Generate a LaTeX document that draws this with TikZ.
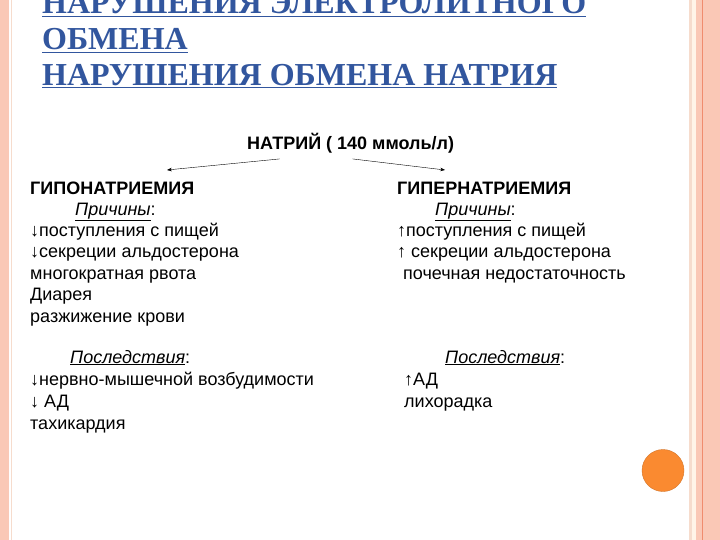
\documentclass[tikz,border=0pt]{standalone}
\usepackage{fontspec}
\setmainfont{Liberation Sans}
\newfontfamily\titlefont{Liberation Serif}
\usetikzlibrary{arrows.meta}
\usetikzlibrary{positioning}

\definecolor{titleblue}{RGB}{50,86,158}
\definecolor{framepink}{RGB}{250,200,182}
\definecolor{framelight}{RGB}{246,220,205}
\definecolor{framecream}{RGB}{255,244,232}
\definecolor{frameline}{RGB}{240,140,110}
\definecolor{dotorange}{RGB}{250,138,48}

\tikzset{
    txt/.style={anchor=base west, inner sep=0pt, font=\fontsize{18}{21}\selectfont},
    head/.style={txt, font=\fontsize{18}{21}\selectfont\bfseries},
    ttl/.style={anchor=base west, inner sep=0pt, text=titleblue, font=\titlefont\fontsize{32}{36}\selectfont\bfseries},
}

\begin{document}
\begin{tikzpicture}[x=1pt, y=-1pt, >=Stealth]
    \useasboundingbox (0,0) rectangle (720,540);
    \clip (0,0) rectangle (720,540);
    \fill[white] (0,0) rectangle (720,540);

    % frame
    \fill[framepink] (0,0) rectangle (9,540);
    \draw[framelight, line width=1pt] (11.5,0) -- (11.5,540);
    \fill[framelight] (689,0) rectangle (691.5,540);
    \fill[framecream] (691.5,0) rectangle (696,540);
    \fill[framepink] (696,0) rectangle (720,540);
    \draw[frameline, line width=1.2pt] (702.5,0) -- (702.5,540);
    \fill[dotorange, draw=dotorange!85!black, line width=0.4pt] (663,470.5) circle (21);

    % title
    \node[ttl] (t1) at (42,14) {\underline{НАРУШЕНИЯ ЭЛЕКТРОЛИТНОГО}};
    \node[ttl] (t2) at (42,50) {\underline{ОБМЕНА}};
    \node[ttl] (t3) at (42,85.5) {\underline{НАРУШЕНИЯ ОБМЕНА НАТРИЯ}};

    \node[head] (natrium) at (247,150) {НАТРИЙ ( 140 ммоль/л)};

    % left column
    \node[head] (hypo) at (30,195) {ГИПОНАТРИЕМИЯ};
    \node[txt] (hypoc) at (75,215) {\underline{\textit{Причины}}:};
    \node[txt] (hypo1) at (30,236.5) {↓поступления с пищей};
    \node[txt] (hypo2) at (30,258) {↓секреции альдостерона};
    \node[txt] (hypo3) at (30,279) {многократная рвота};
    \node[txt] (hypo4) at (30,300.5) {Диарея};
    \node[txt] (hypo5) at (30,322) {разжижение крови};
    \node[txt] (hypop) at (70,363) {\underline{\textit{Последствия}}:};
    \node[txt] (hypo6) at (30,385.5) {↓нервно-мышечной возбудимости};
    \node[txt] (hypo7) at (30,407.5) {↓ АД};
    \node[txt] (hypo8) at (30,429) {тахикардия};

    % right column
    \node[head] (hyper) at (397,195) {ГИПЕРНАТРИЕМИЯ};
    \node[txt] (hyperc) at (435,215) {\underline{\textit{Причины}}:};
    \node[txt] (hyper1) at (397,236.5) {↑поступления с пищей};
    \node[txt] (hyper2) at (397,258) {↑ секреции альдостерона};
    \node[txt] (hyper3) at (403,279) {почечная недостаточность};
    \node[txt] (hyperp) at (445,363) {\underline{\textit{Последствия}}:};
    \node[txt] (hyper4) at (404,385.5) {↑АД};
    \node[txt] (hyper5) at (404,407.5) {лихорадка};

    % arrows
    \coordinate (lend) at (167,170);
    \coordinate (rend) at (445,170);
    \draw[->, thin] ([xshift=-71pt, yshift=-5pt]natrium.south) -- (lend);
    \draw[->, thin] ([xshift=2pt, yshift=-5pt]natrium.south) -- (rend);
\end{tikzpicture}
\end{document}
